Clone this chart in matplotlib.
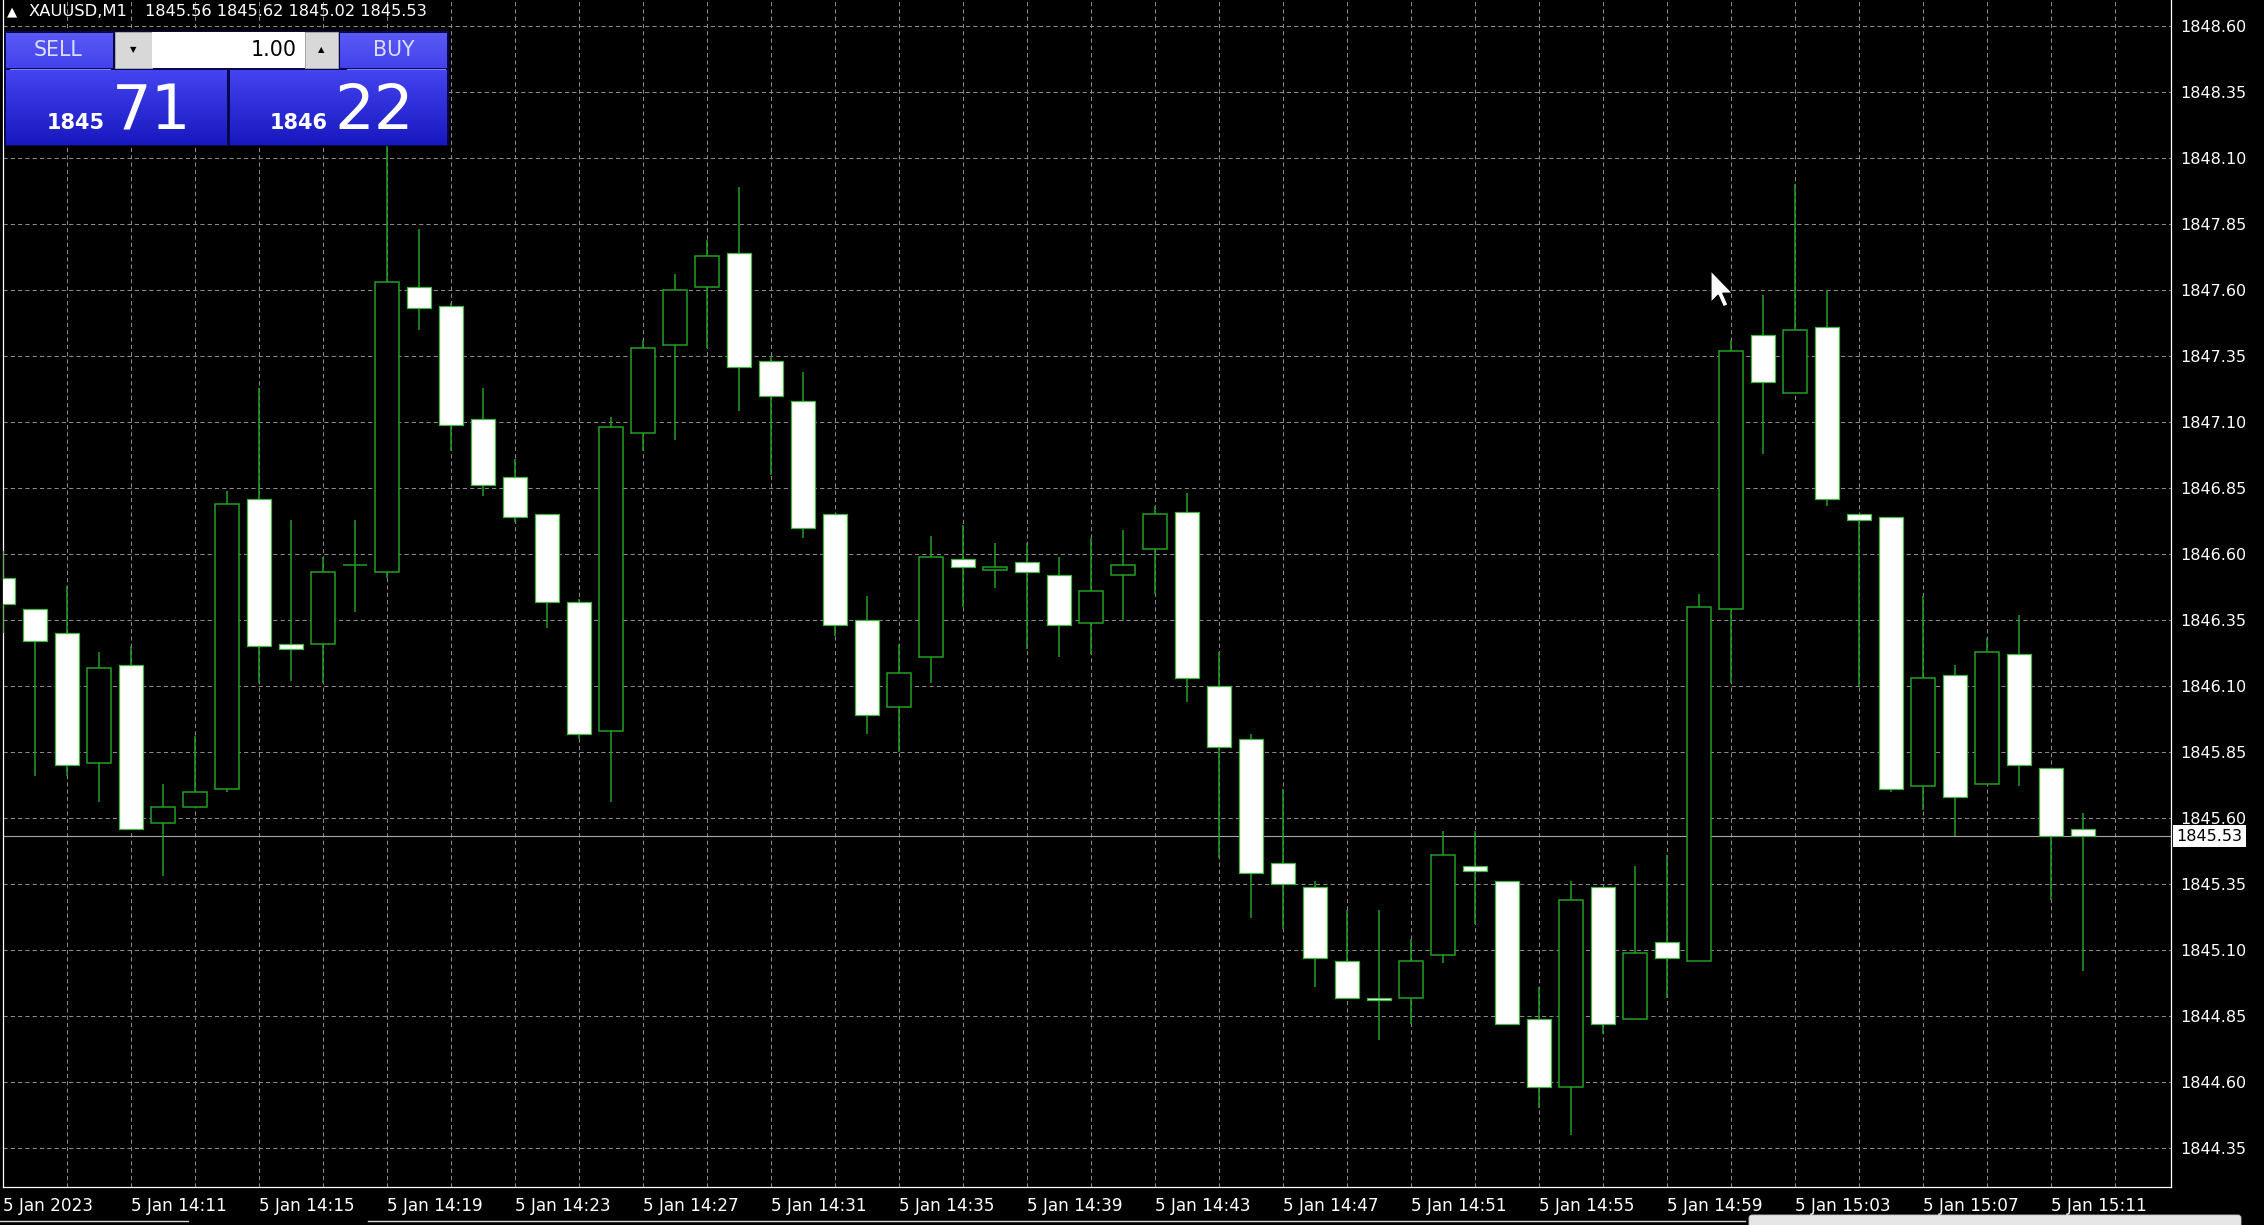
import numpy as np
import matplotlib
matplotlib.use("Agg")
import matplotlib.pyplot as plt
from matplotlib.patches import Rectangle, Polygon, FancyBboxPatch
from matplotlib.transforms import blended_transform_factory
import matplotlib.colors as mcolors

plt.rcParams['font.family'] = ['DejaVu Sans']

W, H, DPI = 2264, 1225, 100

# ---------------- data ----------------
symbol = "XAUUSD,M1"
ohlc_text = "1845.56 1845.62 1845.02 1845.53"
lot_text = "1.00"
bid_parts = ("1845", "71")
ask_parts = ("1846", "22")
last_price = 1845.53

opens = [1846.51, 1846.39, 1846.30, 1845.81, 1846.18, 1845.58, 1845.64, 1845.71, 1846.81, 1846.26,
         1846.26, 1846.56, 1846.53, 1847.61, 1847.54, 1847.11, 1846.89, 1846.75, 1846.42, 1845.93,
         1847.06, 1847.39, 1847.61, 1847.74, 1847.33, 1847.18, 1846.75, 1846.35, 1846.02, 1846.21,
         1846.58, 1846.54, 1846.57, 1846.52, 1846.34, 1846.52, 1846.62, 1846.76, 1846.10, 1845.90,
         1845.43, 1845.34, 1845.06, 1844.92, 1844.92, 1845.08, 1845.42, 1845.36, 1844.84, 1844.58,
         1845.34, 1844.84, 1845.13, 1845.06, 1846.39, 1847.43, 1847.21, 1847.46, 1846.75, 1846.74,
         1845.72, 1846.14, 1845.73, 1846.22, 1845.79, 1845.56]
highs = [1846.61, 1846.39, 1846.48, 1846.23, 1846.25, 1845.73, 1845.91, 1846.84, 1847.23, 1846.73,
         1846.59, 1846.73, 1848.25, 1847.83, 1847.55, 1847.23, 1846.96, 1846.75, 1846.43, 1847.12,
         1847.41, 1847.66, 1847.79, 1847.99, 1847.35, 1847.29, 1846.75, 1846.44, 1846.26, 1846.67,
         1846.71, 1846.64, 1846.64, 1846.59, 1846.66, 1846.69, 1846.78, 1846.83, 1846.23, 1845.92,
         1845.71, 1845.36, 1845.25, 1845.25, 1845.14, 1845.55, 1845.55, 1845.36, 1844.96, 1845.36,
         1845.34, 1845.42, 1845.46, 1846.45, 1847.41, 1847.58, 1848.00, 1847.60, 1846.75, 1846.74,
         1846.44, 1846.18, 1846.28, 1846.37, 1845.79, 1845.62]
lows = [1846.30, 1845.76, 1845.76, 1845.66, 1845.56, 1845.38, 1845.64, 1845.70, 1846.11, 1846.12,
        1846.11, 1846.38, 1846.51, 1847.45, 1846.99, 1846.82, 1846.72, 1846.32, 1845.90, 1845.66,
        1846.99, 1847.03, 1847.38, 1847.14, 1846.90, 1846.66, 1846.29, 1845.92, 1845.85, 1846.11,
        1846.40, 1846.47, 1846.24, 1846.21, 1846.22, 1846.35, 1846.45, 1846.04, 1845.45, 1845.22,
        1845.18, 1844.96, 1844.92, 1844.76, 1844.82, 1845.05, 1845.20, 1844.82, 1844.50, 1844.40,
        1844.78, 1844.84, 1844.92, 1845.06, 1846.11, 1846.98, 1847.21, 1846.78, 1846.10, 1845.70,
        1845.63, 1845.53, 1845.73, 1845.72, 1845.29, 1845.02]
closes = [1846.41, 1846.27, 1845.80, 1846.17, 1845.56, 1845.64, 1845.70, 1846.79, 1846.25, 1846.24,
          1846.53, 1846.56, 1847.63, 1847.53, 1847.09, 1846.86, 1846.74, 1846.42, 1845.92, 1847.08,
          1847.38, 1847.60, 1847.73, 1847.31, 1847.20, 1846.70, 1846.33, 1845.99, 1846.15, 1846.59,
          1846.55, 1846.55, 1846.53, 1846.33, 1846.46, 1846.56, 1846.75, 1846.13, 1845.87, 1845.39,
          1845.35, 1845.07, 1844.92, 1844.91, 1845.06, 1845.46, 1845.40, 1844.82, 1844.58, 1845.29,
          1844.82, 1845.09, 1845.07, 1846.40, 1847.37, 1847.25, 1847.45, 1846.81, 1846.73, 1845.71,
          1846.13, 1845.68, 1846.23, 1845.80, 1845.53, 1845.53]

y_ticks = [1844.35, 1844.60, 1844.85, 1845.10, 1845.35, 1845.60, 1845.85, 1846.10, 1846.35,
           1846.60, 1846.85, 1847.10, 1847.35, 1847.60, 1847.85, 1848.10, 1848.35, 1848.60]
x_labels = ["5 Jan 2023", "5 Jan 14:11", "5 Jan 14:15", "5 Jan 14:19", "5 Jan 14:23",
            "5 Jan 14:27", "5 Jan 14:31", "5 Jan 14:35", "5 Jan 14:39", "5 Jan 14:43",
            "5 Jan 14:47", "5 Jan 14:51", "5 Jan 14:55", "5 Jan 14:59", "5 Jan 15:03",
            "5 Jan 15:07", "5 Jan 15:11"]
label_every = 4
grid_every = 2

# ---------------- style ----------------
BG = "black"
GREEN = "#22a022"
WHITE_EDGE = "#46b446"
GRID = "#8a8a8a"

fig = plt.figure(figsize=(W / DPI, H / DPI), dpi=DPI, facecolor=BG)

ax_left, ax_right, ax_top, ax_bottom = 3, 2171, 0, 1187
ax = fig.add_axes([ax_left / W, (H - ax_bottom) / H, (ax_right - ax_left) / W, (ax_bottom - ax_top) / H])
ax.set_facecolor(BG)

n = len(opens)
x = np.arange(n)
o = np.array(opens); c = np.array(closes)
hi = np.array(highs); lo = np.array(lows)
bull = c >= o
bottoms = np.minimum(o, c)
heights = np.abs(c - o)

ax.vlines(x, lo, hi, color=GREEN, lw=1.1, zorder=3)
ax.bar(x[bull], heights[bull], bottom=bottoms[bull], width=0.75, color="black",
       edgecolor=GREEN, lw=1.1, zorder=4)
ax.bar(x[~bull], heights[~bull], bottom=bottoms[~bull], width=0.75, color="white",
       edgecolor=WHITE_EDGE, lw=0.9, zorder=4)

ax.axhline(last_price, color="#a6a6a6", lw=0.8, zorder=2)

# scales (pixel geometry: bar k centred at 3.4 + 32k px, 264 px per 1.00)
ax.set_xlim((ax_left - 3.4) / 32.0, (ax_right - 3.4) / 32.0)
ax.set_ylim(1848.60 - (ax_bottom - 26) / 264.0, 1848.60 + 26 / 264.0)

xt = list(range(0, n + 2, grid_every))
xl = []
li = 0
for t in xt:
    if t % label_every == 0 and li < len(x_labels):
        xl.append(x_labels[li]); li += 1
    else:
        xl.append("")
ax.set_xticks(xt)
ax.set_xticklabels(xl, ha="left")
ax.set_yticks(y_ticks)
ax.set_yticklabels([f"{v:.2f}" for v in y_ticks])
ax.yaxis.tick_right()
ax.tick_params(axis="x", length=0, pad=7, colors="white", labelsize=12.2)
ax.tick_params(axis="y", length=0, pad=7, colors="white", labelsize=11.5)
ax.grid(True, color=GRID, lw=0.75, ls=(0, (4, 3)), zorder=0)
ax.set_axisbelow(True)
for s in ["left", "right", "bottom"]:
    ax.spines[s].set_color("white")
    ax.spines[s].set_linewidth(0.9)
ax.spines["top"].set_visible(False)

# current price tag on the axis
tr = blended_transform_factory(ax.transAxes, ax.transData)
ax.annotate(f"{last_price:.2f}", xy=(1.0, last_price), xycoords=tr, xytext=(4, 0),
            textcoords="offset points", ha="left", va="center", fontsize=11.5, color="black",
            bbox=dict(boxstyle="square,pad=0.22", fc="white", ec="none"), annotation_clip=False,
            zorder=20)

# ---------------- overlay (panel, header, cursor) ----------------
ov = fig.add_axes([0, 0, 1, 1], zorder=10)
ov.axis("off")


def grad(x0, y0, x1, y1, ctop, cbot):
    t = np.linspace(0, 1, 48)[:, None, None]
    a = np.array(mcolors.to_rgb(ctop))[None, None, :]
    b = np.array(mcolors.to_rgb(cbot))[None, None, :]
    img = a * (1 - t) + b * t
    ov.imshow(img, extent=[x0, x1, y1, y0], aspect="auto", interpolation="bilinear", zorder=2)


# panel frame
ov.add_patch(Rectangle((4, 31), 445, 115, fc="#08084a", ec="none", zorder=1))
grad(6, 33, 113, 68, "#5a5af6", "#4242ec")          # SELL
grad(340, 33, 447, 68, "#5a5af6", "#4242ec")        # BUY
ov.add_patch(Rectangle((115, 32), 37, 36, fc="#d8d8d8", ec="#b0b0b0", lw=0.6, zorder=3))
ov.add_patch(Rectangle((152, 32), 153, 36, fc="white", ec="none", zorder=3))
ov.add_patch(Rectangle((305, 32), 33, 36, fc="#d8d8d8", ec="#b0b0b0", lw=0.6, zorder=3))
ov.plot([10, 110], [68.5, 68.5], color="#7c7cff", lw=0.8, zorder=4)
ov.plot([347, 445], [68.5, 68.5], color="#7c7cff", lw=0.8, zorder=4)
grad(6, 70, 227, 145, "#4444f0", "#1818c0")
grad(230, 70, 447, 145, "#4444f0", "#1818c0")

ov.text(58, 50, "SELL", color="#dcdcff", fontsize=14.8, ha="center", va="center", zorder=5)
ov.text(394, 50, "BUY", color="#dcdcff", fontsize=14.8, ha="center", va="center", zorder=5)
ov.text(297, 50, lot_text, color="black", fontsize=14.8, ha="right", va="center", zorder=5)
ov.text(133, 50, "\u25BC", color="black", fontsize=6, ha="center", va="center", zorder=5)
ov.text(321, 50, "\u25B2", color="black", fontsize=6, ha="center", va="center", zorder=5)
ov.text(47, 129, bid_parts[0], color="white", fontsize=15, fontweight="bold", ha="left",
        va="baseline", zorder=5)
ov.text(112, 129, bid_parts[1], color="white", fontsize=45, ha="left", va="baseline", zorder=5)
ov.text(270, 129, ask_parts[0], color="white", fontsize=15, fontweight="bold", ha="left",
        va="baseline", zorder=5)
ov.text(334, 129, ask_parts[1], color="white", fontsize=45, ha="left", va="baseline", zorder=5)

# header
ov.text(12.5, 12, "\u25B2", color="white", fontsize=9.5, ha="center", va="center", zorder=5)
ov.text(29, 12, symbol, color="white", fontsize=11.8, ha="left", va="center", zorder=5)
ov.text(145, 12, ohlc_text, color="white", fontsize=11.6, ha="left", va="center", zorder=5)

# mouse cursor
tip = np.array([1711.0, 271.0])
shape = np.array([(0, 0), (0, 24), (5.5, 18.5), (9.5, 27.5), (13, 26), (9, 17), (16.5, 17)]) * 1.3
ov.add_patch(Polygon(shape + tip, closed=True, fc="white", ec="black", lw=0.8, zorder=6))

# bottom strip
ov.plot([0, 188], [1221, 1221], color="#d8d8d8", lw=1.0, zorder=5)
ov.plot([368, 1745], [1221, 1221], color="#d8d8d8", lw=1.0, zorder=5)
ov.add_patch(FancyBboxPatch((1749, 1215), 492, 14, boxstyle="round,pad=0,rounding_size=3",
                            fc="#e6e6e6", ec="#c8c8c8", lw=0.6, zorder=5))

ov.set_xlim(0, W)
ov.set_ylim(H, 0)

fig.savefig("out.png", dpi=DPI, facecolor=BG)
